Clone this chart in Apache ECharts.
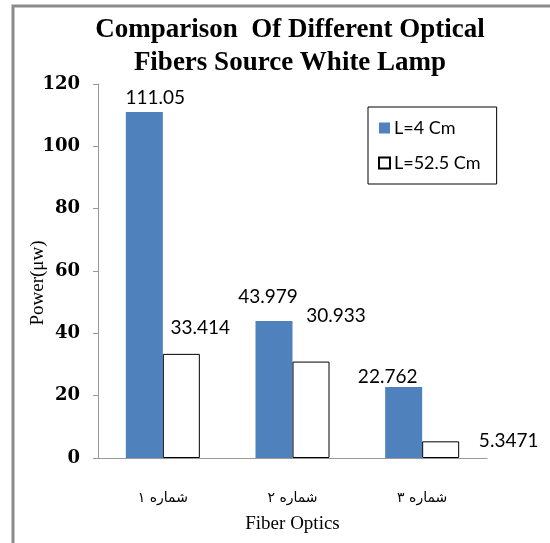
<!DOCTYPE html>
<html>
<head>
<meta charset="utf-8">
<script src="https://cdn.jsdelivr.net/npm/echarts@6/dist/echarts.min.js"></script>
<style>
  html, body { margin: 0; padding: 0; background: #fff; }
  #chart { width: 550px; height: 543px; }
</style>
</head>
<body>
<div id="chart"></div>
<script>
// data
const categories = ['شماره ۱', 'شماره ۲', 'شماره ۳'];
const seriesNames = ['L=4 Cm', 'L=52.5 Cm'];
const shortFiber = [111.05, 43.979, 22.762];
const longFiber = [33.414, 30.933, 5.3471];
const yTicks = [0, 20, 40, 60, 80, 100, 120];

// hand-placed data label nudges, like in the original sheet
const shortOffsets = [[11, 0], [-6, -10], [-16, 4]];
const longOffsets = [[19, -11], [25, -31], [68, 14]];

const labelFont = 'Lato';
const chart = echarts.init(document.getElementById('chart'), null, { renderer: 'canvas' });

function withLabels(values, offsets) {
  return values.map((v, i) => ({
    value: v,
    label: { offset: offsets[i] }
  }));
}

chart.setOption({
  animation: false,
  backgroundColor: '#fff',
  title: {
    text: 'Comparison  Of Different Optical\nFibers Source White Lamp',
    left: 285,
    top: 9,
    textAlign: 'center',
    textStyle: {
      fontFamily: 'Liberation Serif',
      fontWeight: 'bold',
      fontSize: 27,
      lineHeight: 33,
      color: '#000'
    }
  },
  legend: {
    orient: 'vertical',
    left: 368,
    top: 107,
    padding: [12, 16, 12, 10],
    itemGap: 17,
    itemWidth: 11,
    itemHeight: 11,
    icon: 'rect',
    borderColor: '#000',
    borderWidth: 1,
    textStyle: { fontFamily: labelFont, fontSize: 18, color: '#000', padding: [0, 0, 0, -1] },
    data: seriesNames
  },
  grid: { left: 98, right: 63, top: 84, bottom: 85 },
  xAxis: {
    type: 'category',
    data: categories,
    name: 'Fiber Optics',
    nameLocation: 'middle',
    nameGap: 57,
    nameTextStyle: { fontFamily: 'Liberation Serif', fontSize: 19, color: '#000' },
    axisLine: { lineStyle: { color: '#999', width: 1 } },
    axisTick: { show: false },
    axisLabel: { fontFamily: 'DejaVu Sans', fontSize: 14, color: '#000', margin: 33 }
  },
  yAxis: {
    type: 'value',
    min: yTicks[0],
    max: yTicks[yTicks.length - 1],
    interval: 20,
    name: 'Power(μw)',
    nameLocation: 'middle',
    nameGap: 50,
    nameMoveOverlap: false,
    nameRotate: 90,
    nameTextStyle: { fontFamily: 'Liberation Serif', fontSize: 19, color: '#000', padding: [0, 24, 0, 0] },
    axisLine: { show: true, lineStyle: { color: '#999', width: 1 } },
    axisTick: { show: true, length: 5, lineStyle: { color: '#999' } },
    axisLabel: { fontFamily: 'DejaVu Serif', fontWeight: 'bold', fontSize: 18, color: '#000', margin: 18 },
    splitLine: { show: false }
  },
  series: [
    {
      name: seriesNames[0],
      type: 'bar',
      barWidth: 37,
      barGap: '0%',
      itemStyle: { color: '#4f81bd' },
      label: {
        show: true,
        position: 'top',
        fontFamily: labelFont,
        fontSize: 19,
        color: '#000'
      },
      data: withLabels(shortFiber, shortOffsets)
    },
    {
      name: seriesNames[1],
      type: 'bar',
      barWidth: 37,
      barGap: '0%',
      itemStyle: { color: '#fff', borderColor: '#000', borderWidth: 1 },
      label: {
        show: true,
        position: 'top',
        fontFamily: labelFont,
        fontSize: 19,
        color: '#000'
      },
      data: withLabels(longFiber, longOffsets)
    }
  ],
  graphic: [
    // grey frame of the pasted chart picture
    { type: 'polyline', shape: { points: [[13, 543], [13, 6], [550, 6]] }, style: { stroke: '#8c8c8c', lineWidth: 3, fill: null } }
  ]
});
</script>
</body>
</html>
